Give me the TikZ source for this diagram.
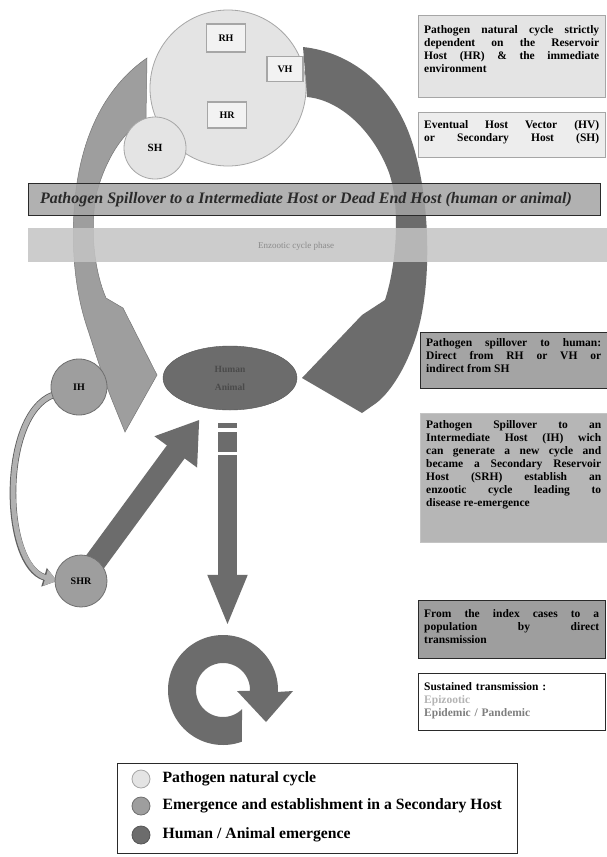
\documentclass[tikz,border=0pt]{standalone}
\usepackage{fontspec}
\setmainfont{Liberation Serif}
\usetikzlibrary{arrows.meta,shapes.geometric}

\definecolor{cyclefill}{HTML}{E4E4E4}
\definecolor{cycleline}{HTML}{A6A6A6}
\definecolor{secfill}{HTML}{9E9E9E}
\definecolor{humfill}{HTML}{6C6C6C}
\definecolor{spillfill}{HTML}{A4A4A4}
\definecolor{phasefill}{HTML}{C4C4C4}
\definecolor{inkdark}{HTML}{2A2A2A}
\definecolor{paleink}{HTML}{B4B4B4}
\definecolor{midink}{HTML}{7E7E7E}

\begin{document}
\begin{tikzpicture}[x=1pt, y=-1pt,
  hostbox/.style={draw=cycleline, line width=1.3pt, fill=white!95!black,
    inner sep=0pt, font=\bfseries\fontsize{10}{12}\selectfont},
  hostdisc/.style={circle, draw=cycleline, line width=0.8pt, fill=cyclefill, inner sep=0pt},
  secdisc/.style={circle, draw=secfill!70!black, line width=0.8pt, fill=secfill,
    inner sep=0pt, font=\bfseries\fontsize{10}{12}\selectfont},
  notebox/.style={anchor=north west, inner sep=0pt},
  notetext/.style={anchor=north west, text width=175pt, align=justify, inner sep=0pt,
    font=\bfseries\fontsize{11.5}{13}\selectfont},
  keydot/.style={circle, minimum size=18pt, inner sep=0pt, line width=0.8pt},
  keytext/.style={anchor=west, inner sep=0pt, font=\bfseries\fontsize{15.7}{18}\selectfont},
  thinarrow/.style={line width=5pt, draw=secfill!80!white,
    -{Triangle[length=12pt,width=16pt]},
    preaction={draw=secfill!60!black, line width=6.6pt, -{Triangle[length=13.5pt,width=18.5pt]}}},
  diagshaft/.style={draw=humfill, line width=22pt, -{Triangle[length=40pt,width=50pt]}},
  vertshaft/.style={draw=humfill, line width=19pt, -{Triangle[length=52pt,width=36pt]}},
]
\useasboundingbox (0,0) rectangle (607,857);
\fill[white] (0,0) rectangle (607,857);

% ---- large curved spillover arrows (behind the natural cycle) ----
% left: towards the human / animal host, from the secondary host side
\fill[secfill, draw=secfill!75!black, line width=0.5pt] (147,58)
  .. controls (115,80) and (85,120) .. (76,190)
  .. controls (70,240) and (74,290) .. (88,330)
  .. controls (96,355) and (104,380) .. (112,400)
  -- (125,432) -- (157,375) -- (123,308) -- (106,298)
  .. controls (94,270) and (90,230) .. (96,195)
  .. controls (104,165) and (118,138) .. (140,122)
  -- (146,118) -- cycle;
% right: direct spillover from the natural cycle
\fill[humfill] (303,47)
  .. controls (350,52) and (395,85) .. (413,145)
  .. controls (430,200) and (432,280) .. (418,330)
  .. controls (408,365) and (390,395) .. (372,406)
  -- (362,413) -- (302,378) -- (362,315) -- (385,300)
  .. controls (398,260) and (400,200) .. (388,170)
  .. controls (372,130) and (340,100) .. (307,97)
  -- cycle;

% ---- pathogen natural cycle ----
\node[hostdisc, minimum size=156pt] (cycle) at (228,88) {};
\node[hostdisc, minimum size=62pt, font=\bfseries\fontsize{11}{12}\selectfont] (sh) at (155,148) {SH};
\node[hostbox, minimum width=39pt, minimum height=28pt] (rh) at (226,38) {RH};
\node[hostbox, minimum width=36pt, minimum height=25pt] (vh) at (285,69) {VH};
\node[hostbox, minimum width=39pt, minimum height=26pt] (hr) at (227,115) {HR};

% ---- horizontal bands ----
\node[notebox, draw=inkdark, line width=1.2pt, fill=spillfill, fill opacity=0.85,
  minimum width=572pt, minimum height=32pt] (spill) at (28,183) {};
\node[anchor=west, inner sep=0pt, text=inkdark,
  font=\bfseries\itshape\fontsize{16}{18}\selectfont] (spilltext)
  at ([xshift=12pt]spill.west) {Pathogen Spillover to a Intermediate Host or Dead End Host (human or animal)};
\node[notebox, fill=phasefill, fill opacity=0.85, minimum width=579pt, minimum height=34pt]
  (phase) at (28,228) {};
\node[inner sep=0pt, text=midink!90!white, font=\fontsize{9}{10}\selectfont] (phasetext)
  at (296,246) {Enzootic cycle phase};

% ---- explanatory notes on the right ----
\node[notebox, draw=cycleline, line width=1.3pt, fill=cyclefill,
  minimum width=187pt, minimum height=82pt] (natbox) at (418,15) {};
\node[notetext] (nattext) at ([shift={(6,10)}]natbox.north west)
  {Pathogen natural cycle strictly\linebreak dependent on the Reservoir\linebreak
   Host (HR) \& the immediate\linebreak environment};

\node[notebox, draw=cycleline, line width=1.3pt, fill=white!93!black,
  minimum width=187pt, minimum height=45pt] (vecbox) at (418,112) {};
\node[notetext, align=left] (vectext) at ([shift={(6,8)}]vecbox.north west)
  {Eventual\hfill Host\hfill Vector\hfill (HV)\\ or\hfill Secondary\hfill Host\hfill (SH)};

\node[notebox, draw=inkdark, line width=1.2pt, fill=spillfill,
  minimum width=187pt, minimum height=56pt] (humbox) at (420,332) {};
\node[notetext] (humtext) at ([shift={(6,6)}]humbox.north west)
  {Pathogen spillover to human:\linebreak Direct from RH or VH or\linebreak indirect from SH};

\node[notebox, draw=phasefill, line width=1pt, fill=secfill!75!white,
  minimum width=187pt, minimum height=129pt] (ihbox) at (420,413) {};
\node[notetext] (ihtext) at ([shift={(6,7)}]ihbox.north west)
  {Pathogen Spillover to an\linebreak Intermediate Host (IH) wich\linebreak
   can generate a new cycle and\linebreak became a Secondary Reservoir\linebreak
   Host (SRH) establish an\linebreak enzootic cycle leading to\linebreak disease re-emergence};

\node[notebox, draw=inkdark, line width=1.2pt, fill=secfill,
  minimum width=187pt, minimum height=58pt] (idxbox) at (418,600) {};
\node[notetext] (idxtext) at ([shift={(6,9)}]idxbox.north west)
  {From the index cases to a\linebreak population by direct\linebreak transmission};

\node[notebox, draw=inkdark, line width=1.2pt, fill=white,
  minimum width=187pt, minimum height=57pt] (susbox) at (418,673) {};
\node[notetext, align=left] (sustext) at ([shift={(6,9)}]susbox.north west)
  {Sustained transmission :\\ {\color{paleink}Epizootic}\\ {\color{midink}Epidemic / Pandemic}};

% ---- emergence ----
\node[ellipse, draw=humfill!80!black, fill=humfill, minimum width=134pt, minimum height=64pt,
  align=center, inner sep=0pt, text=inkdark!85!white,
  font=\bfseries\fontsize{9.5}{18}\selectfont] (hum) at (230,378) {Human\\Animal};

\draw[thinarrow] (79,387) ++(-26,8) .. controls (0,415) and (2,565) .. (57,581);
\node[secdisc, minimum size=56pt] (ih) at (79,387) {IH};

\draw[diagshaft, shorten >=14pt] (81,581) -- (hum);
\node[secdisc, minimum size=52pt] (shr) at (81,581) {SHR};

% ---- sustained transmission loop ----
\node[circle, minimum size=110pt, inner sep=0pt] (loop) at (223,690) {};
\coordinate (vtop) at (227.5,423);
\draw[vertshaft, shorten >=8pt] (vtop) -- (vtop |- loop.north);
\fill[white] (217,428) rectangle (238,432);
\fill[white] (217,452) rectangle (238,455);

\fill[humfill]
  plot[domain=70:362, samples=90] ({223+55*cos(\x)}, {690+55*sin(\x)})
  -- (293,691) -- (266,722) -- (237,691)
  -- plot[domain=362:45, samples=90] ({223+27*cos(\x)}, {690+27*sin(\x)})
  -- cycle;

% ---- key ----
\node[notebox, draw=inkdark, line width=1.2pt, fill=white,
  minimum width=400pt, minimum height=90pt] (key) at (117,763) {};
\node[keydot, draw=cycleline, fill=cyclefill] (k1) at (141,779) {};
\node[keydot, draw=secfill!70!black, fill=secfill] (k2) at (141,806) {};
\node[keydot, draw=humfill!80!black, fill=humfill] (k3) at (141,835) {};
\node[keytext] at ([xshift=12pt]k1.east) {Pathogen natural cycle};
\node[keytext] at ([xshift=12pt]k2.east) {Emergence and establishment in a Secondary Host};
\node[keytext] at ([xshift=12pt]k3.east) {Human / Animal emergence};
\end{tikzpicture}
\end{document}
